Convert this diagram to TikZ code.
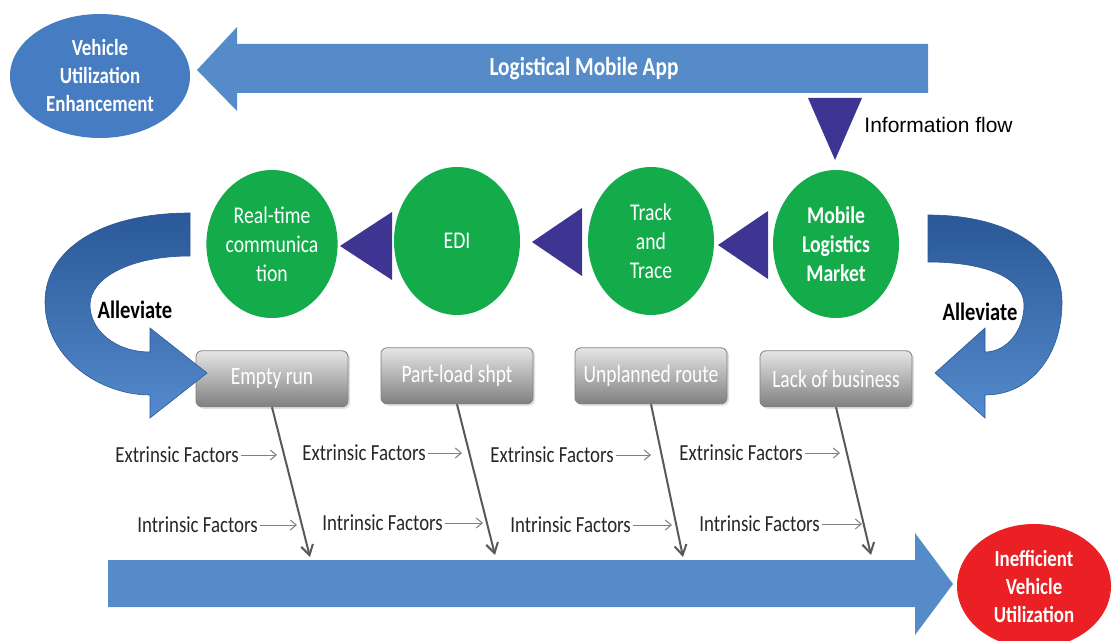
\documentclass[tikz,border=0pt]{standalone}
\usepackage{fontspec}
\setmainfont{Carlito}[FakeStretch=0.82]
\newfontfamily\boxfont{Carlito}[FakeStretch=0.78]
\newfontfamily\arialfont{Liberation Sans}
\usepackage{xcolor}
\usepackage{tikz}
\usetikzlibrary{arrows.meta, positioning, shapes.geometric, shadows}

\definecolor{appblue}{RGB}{86,139,201}
\definecolor{ellblue}{RGB}{70,124,193}
\definecolor{logigreen}{RGB}{20,172,75}
\definecolor{flowpurple}{RGB}{62,52,146}
\definecolor{ineffred}{RGB}{234,32,36}
\definecolor{uturndark}{RGB}{42,88,152}
\definecolor{uturnlight}{RGB}{84,138,204}

\begin{document}
\begin{tikzpicture}[
    x=0.5pt, y=-0.5pt,
    bar/.style={fill=appblue},
    oval/.style={ellipse, inner sep=0pt, align=center, text=white,
                 font=\bfseries\fontsize{11.5}{14}\selectfont},
    gcirc/.style={ellipse, fill=logigreen, minimum width=63pt, minimum height=74pt,
                  inner sep=0pt, align=center, text=white,
                  font=\fontsize{12}{14.5}\selectfont},
    wedge/.style={fill=flowpurple},
    issue/.style={draw=black!50, rounded corners=3pt, top color=black!10, bottom color=black!50,
                  minimum width=76pt, minimum height=28pt, inner sep=0pt, text=white,
                  font=\boxfont\fontsize{12.5}{14}\selectfont,
                  drop shadow={opacity=0.25, shadow xshift=1pt, shadow yshift=-1pt}},
    uturn/.style={top color=uturndark, bottom color=uturnlight, draw=uturndark, line width=0.3pt},
    allev/.style={font=\bfseries\fontsize{12.5}{15}\selectfont},
    factor/.style={anchor=west, inner sep=1pt, text=black!85, font=\fontsize{11.5}{13}\selectfont},
    farrow/.style={-{Straight Barb[length=3pt, width=5pt]}, draw=black!50, line width=0.5pt},
    darrow/.style={-{Straight Barb[length=5pt, width=6pt]}, draw=black!65, line width=1pt},
]
\useasboundingbox (0,0) rectangle (1113,641);

% Top: app arrow back to the goal
\node[oval, fill=ellblue, minimum width=90pt, minimum height=62pt] (enh) at (100,76)
    {Vehicle\\Utilization\\Enhancement};
\fill[bar] (928,44) -- (237,44) -- (237,27) -- (197,70) -- (237,111) -- (237,93) -- (928,93) -- cycle;
\node[text=white, font=\bfseries\fontsize{13}{15}\selectfont] (app) at (584,69) {Logistical Mobile App};

% Information flow
\coordinate (inftip) at (835,160);
\fill[wedge] (808,98) -- (862,98) -- (inftip) -- cycle;
\node[anchor=west, inner sep=1pt, font=\arialfont\fontsize{10.5}{12}\selectfont] (info) at (862,125) {Information flow};

% Green chain
\node[gcirc] (rtc) at (272,244) {Real-time\\communica\\tion};
\node[gcirc] (edi) at (457,241) {EDI};
\node[gcirc] (tt) at (651,241) {Track\\and\\Trace};
\node[gcirc, font=\bfseries\fontsize{12}{14.5}\selectfont] (mlm) at (836,244) {Mobile\\Logistics\\Market};

\fill[wedge] (392,212) -- (340,246) -- (392,280) -- cycle;
\fill[wedge] (582,208) -- (532,242) -- (582,276) -- cycle;
\fill[wedge] (768,211) -- (718,245) -- (768,279) -- cycle;

% Problems
\node[issue, below=16pt of rtc] (empty) {Empty run};
\node[issue, below=16pt of edi] (part) {Part-load shpt};
\node[issue, below=16pt of tt] (unpl) {Unplanned route};
\node[issue, below=16pt of mlm] (lack) {Lack of business};

% Alleviate u-turns
\path[uturn] (190,213) .. controls (100,213) and (45,250) .. (45,302)
    .. controls (45,358) and (100,395) .. (150,395) -- (150,418) -- (207,373)
    -- (150,328) -- (150,352) .. controls (115,352) and (90,330) .. (90,305)
    .. controls (90,278) and (130,256) .. (190,256) -- cycle;
\path[uturn] (928,215) .. controls (1012,215) and (1062,252) .. (1062,302)
    .. controls (1062,356) and (1030,395) .. (985,395) -- (985,418) -- (935,373)
    -- (985,328) -- (985,352) .. controls (1007,352) and (1024,330) .. (1024,305)
    .. controls (1024,280) and (990,262) .. (928,262) -- cycle;
\node[allev] (alvl) at (135,310) {Alleviate};
\node[allev] (alvr) at (980,312) {Alleviate};

% Bottom arrow and result
\fill[bar] (108,560) -- (915,560) -- (915,533) -- (953,584) -- (915,635) -- (915,607) -- (108,607) -- cycle;
\node[oval, fill=ineffred, minimum width=77pt, minimum height=62pt] (ineff) at (1034,586)
    {Inefficient\\Vehicle\\Utilization};

% Bones
\coordinate (d1) at (310,557);
\coordinate (d2) at (495,555);
\coordinate (d3) at (683,557);
\coordinate (d4) at (871,555);
\draw[darrow] (empty.south) -- (d1);
\draw[darrow] (part.south) -- (d2);
\draw[darrow] (unpl.south) -- (d3);
\draw[darrow] (lack.south) -- (d4);

% Factors
\node[factor] (ex1) at (113,455) {Extrinsic Factors};
\node[factor] (ex2) at (300,453) {Extrinsic Factors};
\node[factor] (ex3) at (488,455) {Extrinsic Factors};
\node[factor] (ex4) at (677,453) {Extrinsic Factors};
\node[factor] (in1) at (135,525) {Intrinsic Factors};
\node[factor] (in2) at (320,523) {Intrinsic Factors};
\node[factor] (in3) at (508,525) {Intrinsic Factors};
\node[factor] (in4) at (697,524) {Intrinsic Factors};
\coordinate (ex1e) at (277,455);
\coordinate (ex2e) at (462,453);
\coordinate (ex3e) at (651,455);
\coordinate (ex4e) at (840,453);
\coordinate (in1e) at (297,525);
\coordinate (in2e) at (483,523);
\coordinate (in3e) at (672,525);
\coordinate (in4e) at (862,524);
\draw[farrow] (ex1) -- (ex1e);
\draw[farrow] (ex2) -- (ex2e);
\draw[farrow] (ex3) -- (ex3e);
\draw[farrow] (ex4) -- (ex4e);
\draw[farrow] (in1) -- (in1e);
\draw[farrow] (in2) -- (in2e);
\draw[farrow] (in3) -- (in3e);
\draw[farrow] (in4) -- (in4e);

\end{tikzpicture}
\end{document}
